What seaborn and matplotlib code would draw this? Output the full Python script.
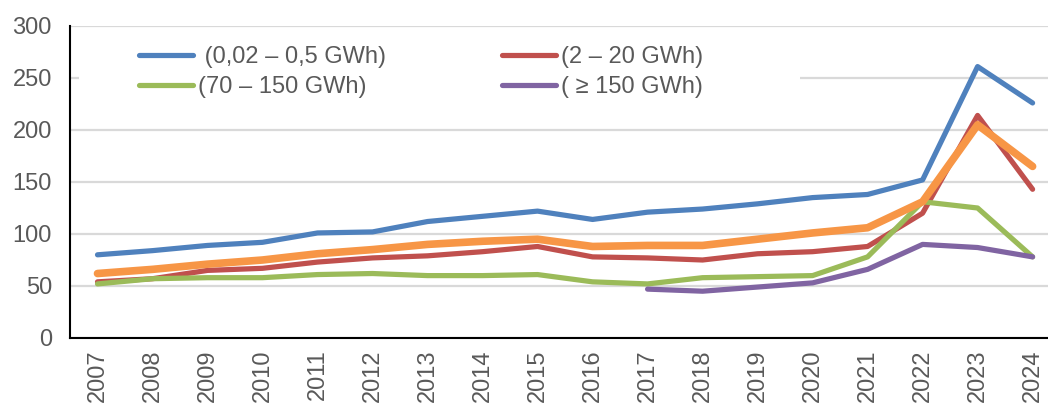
import numpy as np
import pandas as pd
import matplotlib
matplotlib.use("Agg")
import matplotlib.pyplot as plt
from matplotlib.lines import Line2D
from matplotlib.patches import Rectangle
import seaborn as sns

# data
years = [str(y) for y in range(2007, 2025)]
small = [80, 84, 89, 92, 101, 102, 112, 117, 122, 114, 121, 124, 129, 135, 138, 152, 261, 226]
medium = [54, 57, 65, 67, 73, 77, 79, 83, 88, 78, 77, 75, 81, 83, 88, 120, 214, 143]
large = [52, 57, 58, 58, 61, 62, 60, 60, 61, 54, 52, 58, 59, 60, 78, 131, 125, 78]
xlarge = [np.nan] * 10 + [47, 45, 49, 53, 66, 90, 87, 78]
overall = [62, 66, 71, 75, 81, 85, 90, 93, 95, 88, 89, 89, 95, 101, 106, 131, 205, 165]

labels = [" (0,02 – 0,5 GWh)", "(2 – 20 GWh)", "(70 – 150 GWh)", "( ≥ 150 GWh)", "total"]
colors = ["#4F81BD", "#C0504D", "#9BBB59", "#8064A2", "#F79646"]
widths = [3.75, 3.75, 3.75, 3.75, 5.5]

series = [small, medium, large, xlarge, overall]
df = pd.concat(
    [pd.DataFrame({"x": range(len(years)), "value": vals, "series": lab})
     for lab, vals in zip(labels, series)],
    ignore_index=True,
)

sns.set_style("white")
plt.rcParams["font.family"] = ["Liberation Sans", "DejaVu Sans"]

fig = plt.figure(figsize=(10.48, 4.03), dpi=100)
ax = fig.add_axes([70 / 1048, 65 / 403, 1 - 70 / 1048, 312 / 403])

sns.lineplot(
    data=df, x="x", y="value", hue="series", size="series",
    hue_order=labels, size_order=labels,
    palette=dict(zip(labels, colors)), sizes=dict(zip(labels, widths)),
    legend=False, ax=ax, solid_capstyle="round", solid_joinstyle="round",
)

ax.set_xlim(-0.5, 17.28)
ax.set_ylim(0, 300)
ax.set_yticks(range(0, 301, 50))
ax.set_xticks(range(len(years)))
ax.set_xticklabels(years, rotation=90)
ax.set_xlabel("")
ax.set_ylabel("")
ax.tick_params(axis="y", length=0, pad=13, labelsize=17, labelcolor="#595959")
ax.tick_params(axis="x", length=0, pad=8, labelsize=17, labelcolor="#595959")
ax.grid(axis="y", color="#D9D9D9", linewidth=1.6)
ax.set_axisbelow(True)
for side in ["top", "right"]:
    ax.spines[side].set_visible(False)
for side in ["left", "bottom"]:
    ax.spines[side].set_color("black")
    ax.spines[side].set_linewidth(1.5)

# white backdrop behind the legend (hides the 250 grid line)
ax.add_patch(Rectangle((79 / 1048, 1 - 125 / 403), (800 - 79) / 1048, 92 / 403,
                       transform=fig.transFigure, facecolor="white",
                       edgecolor="none", zorder=1.5))

# legend fills column-first: blue, green | red, purple
order = [0, 2, 1, 3]
handles = [Line2D([0], [0], color=colors[i], linewidth=3.75, solid_capstyle="round")
           for i in order]
fig.legend(handles, [labels[i] for i in order], ncol=2, frameon=False,
           loc="upper left", bbox_to_anchor=(139 / 1048, 1 - 46 / 403),
           fontsize=17, labelcolor="#595959", handlelength=2.3,
           handletextpad=0.2, columnspacing=4.9, labelspacing=0.33,
           borderpad=0, borderaxespad=0)

fig.savefig("out.png", dpi=100)
